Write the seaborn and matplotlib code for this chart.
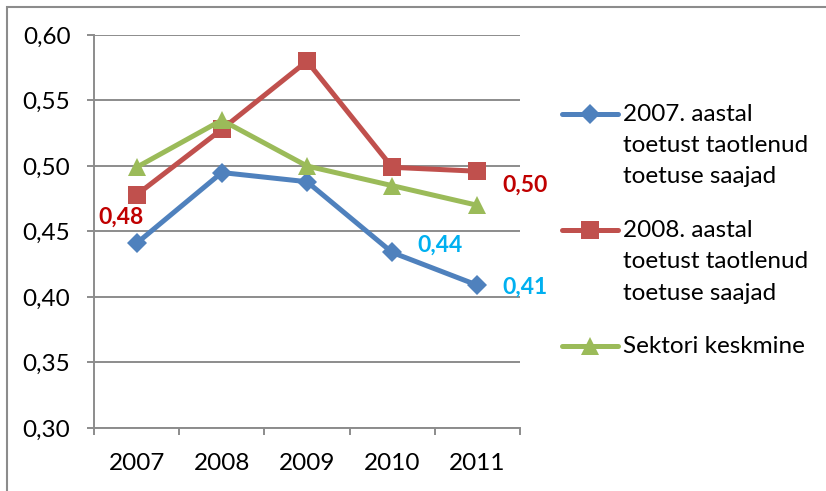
import matplotlib
matplotlib.use("Agg")
import matplotlib.pyplot as plt
import seaborn as sns
import pandas as pd
from matplotlib.patches import Rectangle

years = ["2007", "2008", "2009", "2010", "2011"]
series_names = [
    "2007. aastal\ntoetust taotlenud\ntoetuse saajad",
    "2008. aastal\ntoetust taotlenud\ntoetuse saajad",
    "Sektori keskmine",
]
blue_vals = [0.441, 0.495, 0.488, 0.434, 0.409]
red_vals = [0.478, 0.528, 0.580, 0.499, 0.496]
green_vals = [0.499, 0.535, 0.500, 0.485, 0.470]
yticks = [0.30, 0.35, 0.40, 0.45, 0.50, 0.55, 0.60]

# data labels: (series index, year index, text)
label_series = [1, 1, 0, 0]
label_year = [0, 4, 3, 4]
label_text = ["0,48", "0,50", "0,44", "0,41"]

colors = ["#4F81BD", "#C0504D", "#9BBB59"]
label_colors = {0: "#00B0F0", 1: "#C00000"}
markers = ["D", "s", "^"]
msizes = [10, 13.5, 13]

all_vals = [blue_vals, red_vals, green_vals]
rows = []
for name, vals in zip(series_names, all_vals):
    for i, v in enumerate(vals):
        rows.append({"x": i, "value": v, "series": name})
df = pd.DataFrame(rows)

sns.set_theme(style="white")
plt.rcParams["font.family"] = ["Lato", "DejaVu Sans"]

W, H = 826, 491
fig = plt.figure(figsize=(W / 100, H / 100), dpi=100)
ax = fig.add_axes([94 / W, 1 - 428 / H, (520 - 94) / W, (428 - 35) / H])

sns.lineplot(
    data=df, x="x", y="value", hue="series", style="series",
    hue_order=series_names, style_order=series_names,
    palette=dict(zip(series_names, colors)),
    markers=dict(zip(series_names, markers)),
    dashes=False, linewidth=3.6, markeredgewidth=0,
    ax=ax, legend=True,
)
for line, ms in zip(ax.get_lines(), msizes):
    line.set_markersize(ms)

ax.set_xlim(-0.5, 4.5)
ax.set_ylim(0.30, 0.60)
ax.set_yticks(yticks)
ax.set_yticklabels([f"{t:.2f}".replace(".", ",") for t in yticks])
ax.set_xticks(range(len(years)))
ax.set_xticklabels(years)
ax.set_xticks([i - 0.5 for i in range(len(years) + 1)], minor=True)
ax.set_xlabel("")
ax.set_ylabel("")

grid_c = "#8C8C8C"
ax.yaxis.grid(True, color=grid_c, linewidth=1.4)
ax.set_axisbelow(True)
for s in ["top", "right"]:
    ax.spines[s].set_visible(False)
for s in ["left", "bottom"]:
    ax.spines[s].set_color(grid_c)
    ax.spines[s].set_linewidth(1.4)
ax.tick_params(axis="y", which="major", length=5, width=1.4, color=grid_c,
               labelsize=17.5, pad=12, left=True, direction="out", labelcolor="black")
ax.tick_params(axis="x", which="major", length=0, labelsize=17.5, pad=18, labelcolor="black")
ax.tick_params(axis="x", which="minor", length=5, width=1.4, color=grid_c,
               bottom=True, direction="out")

offsets = [(-16, -22), (48, -14), (48, 7), (48, -2)]
for si, yi, txt, off in zip(label_series, label_year, label_text, offsets):
    ax.annotate(txt, (yi, all_vals[si][yi]), xytext=off, textcoords="offset pixels",
                ha="center", va="center", color=label_colors[si],
                fontsize=16.5, fontweight="bold", annotation_clip=False)

handles, labels = ax.get_legend_handles_labels()
leg = ax.legend(handles, labels, loc="upper left", bbox_to_anchor=(562 / W, 1 - 104 / H),
                bbox_transform=fig.transFigure, frameon=False, fontsize=17.5,
                handlelength=2.3, handletextpad=0.2, labelspacing=1.35, borderaxespad=0,
                borderpad=0, handleheight=1.1)
for h, ms in zip(leg.legend_handles, msizes):
    h.set_markersize(ms)
    h.set_linewidth(3.6)
for t in leg.get_texts():
    t.set_linespacing(1.6)
    t.set_color("black")
for col in leg._legend_handle_box.get_children():
    for item in col.get_children():
        item.align = "top"

fig.patches.append(Rectangle((7 / W, -0.01), 1, 1 - 7 / H + 0.01, transform=fig.transFigure,
                             fill=False, edgecolor="#8C8C8C", linewidth=1.5))

fig.savefig("out.png", dpi=100)
